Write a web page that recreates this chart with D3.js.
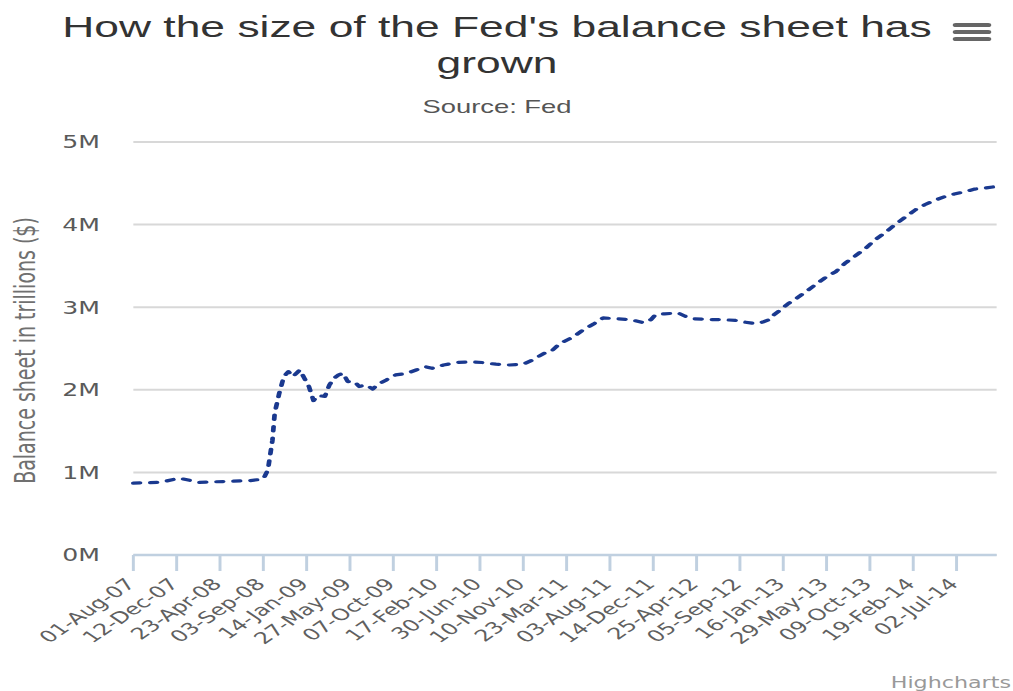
<!DOCTYPE html>
<html>
<head>
<meta charset="utf-8">
<script src="https://cdn.jsdelivr.net/npm/d3@7"></script>
<style>
  body { margin: 0; background: #fff; }
  svg { display: block; }
</style>
</head>
<body>
<div id="chart"></div>
<script>
// Fed balance sheet (axis shows trillions as "M")
const dates = [
  "2007-08-01", "2007-10-24", "2007-12-19", "2008-02-20", "2008-05-07", "2008-07-23",
  "2008-09-03", "2008-09-17", "2008-10-01", "2008-10-08", "2008-10-22", "2008-11-05",
  "2008-11-19", "2008-12-03", "2008-12-24", "2009-01-07", "2009-01-21", "2009-02-04",
  "2009-02-18", "2009-03-11", "2009-03-25", "2009-04-08", "2009-04-22", "2009-05-06",
  "2009-05-20", "2009-06-10", "2009-06-24", "2009-07-15", "2009-08-05", "2009-08-19",
  "2009-09-16", "2009-10-14", "2009-11-18", "2009-12-16", "2010-01-13", "2010-02-03",
  "2010-03-10", "2010-04-21", "2010-06-02", "2010-07-07", "2010-08-18", "2010-09-29",
  "2010-11-10", "2010-12-08", "2011-01-12", "2011-02-02", "2011-03-02", "2011-04-13",
  "2011-05-11", "2011-06-15", "2011-07-13", "2011-08-24", "2011-10-05", "2011-11-16",
  "2011-12-07", "2011-12-21", "2012-01-18", "2012-02-29", "2012-03-21", "2012-04-18",
  "2012-06-06", "2012-07-11", "2012-08-22", "2012-09-19", "2012-10-24", "2012-11-14",
  "2012-12-05", "2012-12-19", "2013-01-09", "2013-01-30", "2013-02-20", "2013-03-20",
  "2013-04-24", "2013-05-22", "2013-06-26", "2013-07-24", "2013-08-28", "2013-09-25",
  "2013-10-23", "2013-11-27", "2013-12-25", "2014-01-29", "2014-02-26", "2014-03-26",
  "2014-04-30", "2014-05-28", "2014-06-25", "2014-07-30", "2014-08-27", "2014-09-24",
  "2014-10-29"
];
const values = [
  0.87, 0.88, 0.93, 0.88, 0.89, 0.90,
  0.92, 1.03, 1.39, 1.72, 1.96, 2.16,
  2.22, 2.16, 2.24, 2.14, 2.04, 1.87,
  1.93, 1.92, 2.06, 2.14, 2.18, 2.20,
  2.10, 2.10, 2.04, 2.06, 2.01, 2.06,
  2.12, 2.18, 2.20, 2.24, 2.28, 2.26,
  2.30, 2.33, 2.34, 2.33, 2.31, 2.30,
  2.31, 2.36, 2.44, 2.46, 2.56, 2.64,
  2.72, 2.80, 2.87, 2.86, 2.85, 2.81,
  2.85, 2.91, 2.92, 2.93, 2.89, 2.86,
  2.85, 2.85, 2.84, 2.82, 2.80, 2.82,
  2.85, 2.91, 2.97, 3.04, 3.09, 3.17,
  3.27, 3.35, 3.43, 3.53, 3.63, 3.71,
  3.81, 3.91, 4.00, 4.10, 4.18, 4.24,
  4.30, 4.34, 4.37, 4.40, 4.43, 4.44,
  4.46
];
const xTickLabels = [
  "01-Aug-07", "12-Dec-07", "23-Apr-08", "03-Sep-08", "14-Jan-09", "27-May-09",
  "07-Oct-09", "17-Feb-10", "30-Jun-10", "10-Nov-10", "23-Mar-11", "03-Aug-11",
  "14-Dec-11", "25-Apr-12", "05-Sep-12", "16-Jan-13", "29-May-13", "09-Oct-13",
  "19-Feb-14", "02-Jul-14"
];
const yTicks = [0, 1, 2, 3, 4, 5];

const titleLines = ["How the size of the Fed's balance sheet has", "grown"];
const subtitle = "Source: Fed";
const yTitle = "Balance sheet in trillions ($)";
const credit = "Highcharts";

// the reference is stretched sideways, so draw narrow and let the svg stretch it
const outW = 1013, outH = 691;
const stretch = 1.48;
const W = outW / stretch, H = outH;
const margin = { top: 142, right: W - 673.4, bottom: H - 555, left: 90.1 };

const parse = d3.timeParse("%Y-%m-%d");
const parseTick = d3.timeParse("%d-%b-%y");
const data = dates.map((d, i) => ({ date: parse(d), value: values[i] }));
const tickDates = xTickLabels.map(parseTick);

const svg = d3.select("#chart").append("svg")
  .attr("width", outW)
  .attr("height", outH)
  .attr("viewBox", `0 0 ${W} ${H}`)
  .attr("preserveAspectRatio", "none");

const x = d3.scaleTime()
  .domain([parse("2007-08-01"), parse("2014-11-02")])
  .range([margin.left, W - margin.right]);
const y = d3.scaleLinear()
  .domain([0, 5])
  .range([H - margin.bottom, margin.top]);

// --- grid ---
svg.append("g")
  .selectAll("line")
  .data(yTicks)
  .join("line")
  .attr("x1", margin.left)
  .attr("x2", W - margin.right)
  .attr("y1", d => y(d))
  .attr("y2", d => y(d))
  .attr("stroke", "#d8d8d8")
  .attr("stroke-width", 2);

// --- y labels ---
svg.append("g")
  .selectAll("text")
  .data(yTicks)
  .join("text")
  .attr("x", margin.left - 22.5)
  .attr("y", d => y(d))
  .attr("dy", "0.38em")
  .attr("text-anchor", "end")
  .attr("font-family", "DejaVu Sans, Verdana, sans-serif")
  .attr("font-size", 17)
  .attr("fill", "#5a5a5a")
  .text(d => d + "M");

// y title
svg.append("text")
  .attr("transform", `translate(${25 / stretch},${(margin.top + H - margin.bottom) / 2 + 2}) rotate(-90)`)
  .attr("text-anchor", "middle")
  .attr("dy", "0.35em")
  .attr("font-family", "DejaVu Sans, Verdana, sans-serif")
  .attr("font-size", 19)
  .attr("fill", "#707070")
  .text(yTitle);

// --- x axis ---
const xAxis = svg.append("g");
xAxis.append("line")
  .attr("x1", margin.left)
  .attr("x2", W - margin.right)
  .attr("y1", y(0))
  .attr("y2", y(0))
  .attr("stroke", "#c0d0e0")
  .attr("stroke-width", 2.5);

xAxis.selectAll("line.tick")
  .data(tickDates)
  .join("line")
  .attr("class", "tick")
  .attr("x1", d => x(d))
  .attr("x2", d => x(d))
  .attr("y1", y(0))
  .attr("y2", y(0) + 16)
  .attr("stroke", "#c0d0e0")
  .attr("stroke-width", 2);

xAxis.selectAll("text")
  .data(tickDates)
  .join("text")
  .attr("transform", d => `translate(${x(d) + 2},${y(0) + 30}) rotate(-45)`)
  .attr("text-anchor", "end")
  .attr("font-family", "DejaVu Sans, Verdana, sans-serif")
  .attr("font-size", 16)
  .attr("fill", "#606060")
  .text((d, i) => xTickLabels[i]);

// --- series ---
const line = d3.line()
  .x(d => x(d.date))
  .y(d => y(d.value));

svg.append("path")
  .datum(data)
  .attr("d", line)
  .attr("fill", "none")
  .attr("stroke", "#1a398f")
  .attr("stroke-width", 3.2)
  .attr("stroke-dasharray", "4.5,7")
  .attr("stroke-linecap", "round")
  .attr("stroke-linejoin", "round");

// --- titles ---
const titleX = 497 / stretch;
svg.append("text")
  .attr("x", titleX)
  .attr("y", 37)
  .attr("text-anchor", "middle")
  .attr("font-family", "Liberation Sans, Arial, sans-serif")
  .attr("font-size", 30)
  .attr("fill", "#333333")
  .selectAll("tspan")
  .data(titleLines)
  .join("tspan")
  .attr("x", titleX)
  .attr("dy", (d, i) => (i === 0 ? 0 : 36))
  .text(d => d);

svg.append("text")
  .attr("x", titleX)
  .attr("y", 113)
  .attr("text-anchor", "middle")
  .attr("font-family", "Liberation Sans, Arial, sans-serif")
  .attr("font-size", 18.5)
  .attr("fill", "#555555")
  .text(subtitle);

// export menu icon
const menu = svg.append("g").attr("transform", `translate(${972 / stretch},0)`);
[25, 32, 39].forEach(yy => {
  menu.append("line")
    .attr("x1", -11).attr("x2", 11)
    .attr("y1", yy).attr("y2", yy)
    .attr("stroke", "#666666")
    .attr("stroke-width", 4)
    .attr("stroke-linecap", "round");
});

// credit
svg.append("text")
  .attr("x", 1011 / stretch)
  .attr("y", 688)
  .attr("text-anchor", "end")
  .attr("font-family", "DejaVu Sans, Verdana, sans-serif")
  .attr("font-size", 15)
  .attr("fill", "#999999")
  .text(credit);
</script>
</body>
</html>
